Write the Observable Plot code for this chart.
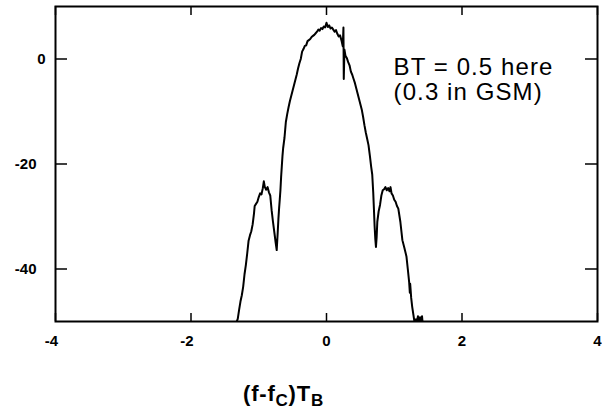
<!DOCTYPE html>
<html>
<head>
<meta charset="utf-8">
<script src="https://cdn.jsdelivr.net/npm/d3@7"></script>
<script src="https://cdn.jsdelivr.net/npm/@observablehq/plot@0.6"></script>
<style>
  html, body { margin: 0; padding: 0; background: #fff; }
  #wrap { position: relative; width: 602px; height: 416px; font-family: "Liberation Sans", Arial, sans-serif; }
  #xtitle { position: absolute; left: 243px; top: 381px; font-size: 22px; font-weight: bold; color: #000; white-space: nowrap; letter-spacing: 0.8px; line-height: 26px; }
  #xtitle sub { font-size: 17px; vertical-align: baseline; position: relative; top: 5px; }
  .annot text { letter-spacing: 1.1px; }
</style>
</head>
<body>
<div id="wrap"></div>
<script>
// Normalized frequency (f - fc) * T_B
const freq = [
  -1.34, -1.31, -1.29, -1.27, -1.25, -1.23, -1.21, -1.19, -1.17, -1.15,
  -1.13, -1.11, -1.09, -1.07, -1.06, -1.04, -1.02, -1.00, -0.98, -0.96,
  -0.94, -0.925, -0.91, -0.89, -0.87, -0.85, -0.83, -0.81, -0.79, -0.77,
  -0.75, -0.735, -0.72, -0.71, -0.70, -0.69, -0.68, -0.67, -0.66, -0.65,
  -0.64, -0.63, -0.62, -0.61, -0.60, -0.58, -0.56, -0.54, -0.52, -0.50,
  -0.48, -0.46, -0.44, -0.42, -0.40, -0.38, -0.36, -0.34, -0.32, -0.30,
  -0.28, -0.26, -0.24, -0.22, -0.20, -0.18, -0.16, -0.14, -0.12, -0.10,
  -0.08, -0.06, -0.04, -0.02, 0.00, 0.02, 0.04, 0.06, 0.08, 0.10,
  0.12, 0.14, 0.16, 0.18, 0.20, 0.22, 0.24, 0.25, 0.255, 0.265,
  0.28, 0.30, 0.32, 0.34, 0.36, 0.38, 0.40, 0.42, 0.44, 0.46,
  0.48, 0.50, 0.52, 0.54, 0.56, 0.58, 0.60, 0.62, 0.64, 0.66,
  0.675, 0.69, 0.70, 0.71, 0.72, 0.73, 0.74, 0.75, 0.77, 0.79,
  0.81, 0.83, 0.85, 0.87, 0.89, 0.91, 0.93, 0.945, 0.96, 0.98,
  1.00, 1.02, 1.04, 1.06, 1.09, 1.12, 1.15, 1.18, 1.20, 1.22,
  1.23, 1.235, 1.25, 1.265, 1.28, 1.30, 1.32, 1.33, 1.35, 1.36,
  1.38, 1.39, 1.41, 1.42, 1.43
];
// Power spectral density (dB)
const psd = [
  -50.5, -49.5, -47.8, -46.2, -45.0, -43.4, -41.0, -39.2, -37.0, -34.6,
  -33.6, -32.8, -31.5, -29.4, -28.0, -27.6, -27.2, -26.3, -25.6, -25.8,
  -24.6, -23.3, -24.4, -24.9, -24.4, -25.4, -26.0, -28.8, -31.0, -33.0,
  -35.0, -36.4, -33.0, -30.5, -28.5, -26.8, -25.0, -22.5, -20.5, -18.5,
  -17.0, -16.0, -15.0, -13.5, -12.0, -10.5, -9.2, -8.0, -7.0, -6.0,
  -5.0, -4.0, -3.0, -1.8, -0.8, 0.0, 1.4, 1.9, 2.5, 2.6,
  3.4, 3.6, 3.8, 4.2, 4.4, 4.6, 4.9, 5.2, 5.6, 5.4,
  5.9, 5.7, 6.2, 6.0, 6.9, 6.1, 6.4, 5.8, 6.0, 5.6,
  5.2, 5.5, 4.8, 4.3, 4.5, 3.6, 2.4, 6.0, -3.8, 1.8,
  0.6, 0.2, -0.6, -1.2, -2.4, -3.0, -3.8, -4.6, -5.6, -6.6,
  -7.6, -8.6, -9.6, -11.0, -12.6, -14.0, -15.2, -16.4, -18.4, -20.6,
  -22.0, -25.5, -28.6, -31.8, -34.2, -35.8, -34.0, -31.0, -29.0, -27.8,
  -26.0, -25.0, -24.8, -24.4, -25.0, -24.6, -25.2, -24.4, -25.6, -26.0,
  -26.8, -27.2, -28.0, -28.5, -31.0, -34.5, -36.0, -37.6, -40.0, -42.5,
  -44.5, -42.8, -45.5, -47.2, -48.5, -50.2, -49.6, -50.3, -49.0, -50.4,
  -49.2, -50.3, -49.0, -50.4, -50.5
];
const xTicks = [-4, -2, 0, 2, 4];
const yTicks = [0, -20, -40];
const annotation = ["BT = 0.5 here\n(0.3 in GSM)"];

const data = freq.map((f, i) => ({f, p: psd[i]}));

const W = 602, H = 416;
const mL = 55, mR = 5, mT = 6, mB = 95;
const plotW = W - mL - mR, plotH = H - mT - mB;

const chart = Plot.plot({
  width: W,
  height: H,
  marginLeft: mL, marginRight: mR, marginTop: mT, marginBottom: mB,
  style: {fontFamily: "'Liberation Sans', Arial, sans-serif", background: "#fff", color: "#000"},
  x: {domain: [-4, 4], axis: null},
  y: {domain: [-50, 10], axis: null},
  marks: [
    Plot.line(data, {x: "f", y: "p", stroke: "#000", strokeWidth: 2, clip: true}),
    // inward ticks: bottom, top, left, right
    Plot.ruleX(xTicks, {x: d => d, stroke: "#000", strokeWidth: 1.5, insetTop: plotH - 8}),
    Plot.ruleX(xTicks, {x: d => d, stroke: "#000", strokeWidth: 1.5, insetBottom: plotH - 9}),
    Plot.ruleY(yTicks, {y: d => d, stroke: "#000", strokeWidth: 1.5, insetRight: plotW - 12}),
    Plot.ruleY(yTicks, {y: d => d, stroke: "#000", strokeWidth: 1.5, insetLeft: plotW - 12}),
    Plot.frame({stroke: "#000", strokeWidth: 2}),
    // y tick labels
    Plot.text(yTicks.filter(d => d === 0), {y: d => d, text: d => String(d), frameAnchor: "left", textAnchor: "end", dx: -10, fontSize: 15, fontWeight: "bold"}),
    Plot.text(yTicks.filter(d => d !== 0), {y: d => d, text: d => String(d), frameAnchor: "left", textAnchor: "end", dx: -19, fontSize: 15, fontWeight: "bold"}),
    // x tick labels
    Plot.text(xTicks.filter(d => d < 0), {x: d => d, text: d => String(d), frameAnchor: "bottom", dy: 24, dx: -4, fontSize: 15, fontWeight: "bold"}),
    Plot.text(xTicks.filter(d => d >= 0), {x: d => d, text: d => String(d), frameAnchor: "bottom", dy: 24, fontSize: 15, fontWeight: "bold"}),
    // annotation
    Plot.text(annotation, {x: 0.99, y: 0.55, text: d => d, textAnchor: "start", lineAnchor: "top", lineHeight: 1.08, fontSize: 24, className: "annot"})
  ]
});

const wrap = document.getElementById("wrap");
wrap.appendChild(chart);
const t = document.createElement("div");
t.id = "xtitle";
t.innerHTML = "(f-f<sub>C</sub>)T<sub>B</sub>";
wrap.appendChild(t);
</script>
</body>
</html>
